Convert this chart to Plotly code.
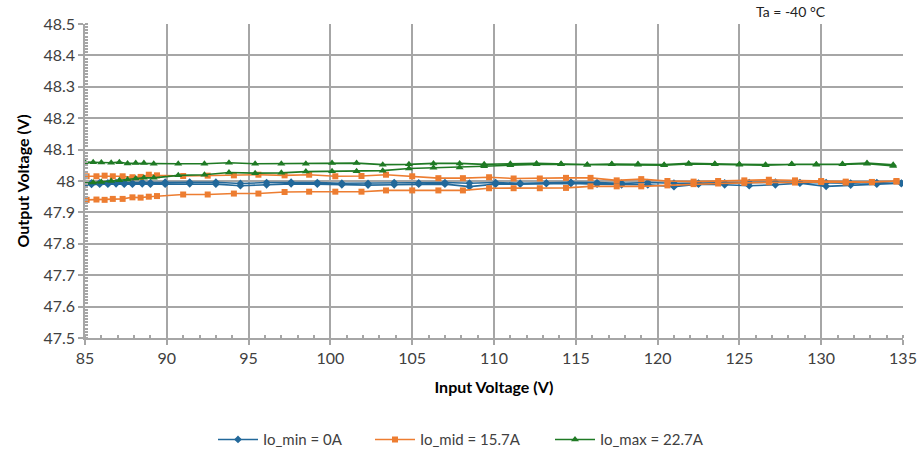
import plotly.graph_objects as go

# Input voltage sweep points (V) for each load condition
x_min = [85.0, 85.4, 85.9, 86.4, 86.9, 87.4, 87.9, 88.5, 89.0,
         89.9, 91.4, 93.0, 94.5, 96.1, 97.6,
         99.2, 100.7, 102.3, 103.9, 105.4,
         107.0, 108.5, 110.1, 111.6, 113.2,
         114.7, 116.3, 117.8, 119.4, 121.0,
         122.5, 124.1, 125.6, 127.2, 128.7,
         130.3, 131.8, 133.4, 134.9]
x_mid = [85.1, 85.7, 86.2, 86.7, 87.3, 87.9, 88.4, 88.9, 89.4,
         91.0, 92.5, 94.1, 95.6, 97.2,
         98.7, 100.3, 101.9, 103.4, 105.0,
         106.6, 108.1, 109.7, 111.2, 112.8,
         114.4, 115.9, 117.5, 119.0, 120.6,
         122.2, 123.7, 125.3, 126.8, 128.4,
         130.0, 131.5, 133.1, 134.6]
x_max = [85.0, 85.5, 86.0, 86.6, 87.1, 87.6, 88.1, 88.6, 89.2,
         90.7, 92.3, 93.8, 95.4, 97.0,
         98.5, 100.1, 101.6, 103.2, 104.8,
         106.3, 107.9, 109.4, 111.0, 112.6,
         114.1, 115.7, 117.2, 118.8, 120.4,
         121.9, 123.5, 125.0, 126.6, 128.2,
         129.7, 131.3, 132.8, 134.4]

# Output voltage (V), rising sweep and falling sweep
vout_min_up = [47.988, 47.989, 47.990, 47.990, 47.991, 47.990, 47.990, 47.991, 47.990,
               47.990, 47.991, 47.990, 47.985, 47.988, 47.991,
               47.990, 47.988, 47.987, 47.988, 47.990,
               47.990, 47.982, 47.990, 47.990, 47.992,
               47.992, 47.990, 47.988, 47.988, 47.982,
               47.990, 47.988, 47.985, 47.988, 47.993,
               47.983, 47.987, 47.990, 47.993]
vout_min_down = [47.993, 47.994, 47.995, 47.994, 47.995, 47.995, 47.994, 47.996, 47.995,
                 47.996, 47.996, 47.996, 47.992, 47.995, 47.996,
                 47.995, 47.993, 47.992, 47.995, 47.994,
                 47.995, 47.993, 47.995, 47.993, 47.994,
                 47.996, 47.995, 47.993, 47.995, 47.993,
                 47.993, 47.994, 47.995, 47.996, 47.995,
                 47.995, 47.993, 47.995, 47.992]

vout_mid_up = [47.940, 47.941, 47.940, 47.943, 47.943, 47.948, 47.947, 47.950, 47.952,
               47.957, 47.957, 47.960, 47.960, 47.965,
               47.966, 47.966, 47.966, 47.970, 47.970,
               47.970, 47.970, 47.977, 47.977, 47.977,
               47.978, 47.983, 47.983, 47.983, 47.986,
               47.990, 47.992, 47.994, 47.996, 47.995,
               47.997, 47.995, 47.997, 47.998]
vout_mid_down = [48.015, 48.015, 48.017, 48.015, 48.015, 48.012, 48.013, 48.020, 48.018,
                 48.016, 48.017, 48.018, 48.020, 48.018,
                 48.020, 48.015, 48.016, 48.020, 48.015,
                 48.009, 48.009, 48.012, 48.008, 48.008,
                 48.010, 48.010, 48.002, 48.006, 48.000,
                 47.998, 48.000, 48.002, 48.004, 48.002,
                 48.000, 47.998, 47.996, 48.000]

vout_max_up = [47.993, 47.995, 47.997, 48.000, 48.002, 48.005, 48.008, 48.010, 48.010,
               48.018, 48.020, 48.027, 48.025, 48.026,
               48.030, 48.031, 48.031, 48.033, 48.040,
               48.042, 48.043, 48.047, 48.050, 48.053,
               48.053, 48.052, 48.053, 48.052, 48.050,
               48.054, 48.053, 48.052, 48.050, 48.053,
               48.052, 48.053, 48.055, 48.048]
vout_max_down = [48.060, 48.060, 48.059, 48.058, 48.060, 48.056, 48.057, 48.057, 48.055,
                 48.055, 48.055, 48.058, 48.055, 48.055,
                 48.055, 48.057, 48.057, 48.052, 48.053,
                 48.056, 48.056, 48.053, 48.055, 48.056,
                 48.055, 48.052, 48.054, 48.054, 48.052,
                 48.056, 48.055, 48.053, 48.052, 48.054,
                 48.053, 48.054, 48.057, 48.052]

series_names = ["Io_min = 0A", "Io_mid = 15.7A", "Io_max = 22.7A"]
x_ticks = [85, 90, 95, 100, 105, 110, 115, 120, 125, 130, 135]
y_ticks = [47.5, 47.6, 47.7, 47.8, 47.9, 48.0, 48.1, 48.2, 48.3, 48.4, 48.5]
y_tick_text = ["47.5", "47.6", "47.7", "47.8", "47.9", "48", "48.1", "48.2", "48.3", "48.4", "48.5"]

FONT = "Lato"
GRID = "#A6A6A6"
TICK_COLOR = "#404040"

styles = [
    dict(color="#22689A", symbol="diamond", size=6),
    dict(color="#ED7D31", symbol="square", size=6),
    dict(color="#1F7A24", symbol="triangle-up", size=7),
]
sweeps = [
    (x_min, vout_min_up, vout_min_down),
    (x_mid, vout_mid_up, vout_mid_down),
    (x_max, vout_max_up, vout_max_down),
]
# each series gets its own legend box so the entries can be spaced freely
legend_ids = ["legend", "legend2", "legend3"]
legend_left = [213, 370, 550]

fig = go.Figure()
for name, st, (xs, up, down), lid in zip(series_names, styles, sweeps, legend_ids):
    # rising sweep followed by the falling sweep, drawn as one loop
    fig.add_trace(go.Scatter(
        x=list(xs) + list(xs)[::-1],
        y=list(up) + list(down)[::-1],
        mode="lines+markers",
        name=name,
        legend=lid,
        line=dict(color=st["color"], width=1.6),
        marker=dict(color=st["color"], symbol=st["symbol"], size=st["size"]),
    ))

fig.add_annotation(
    text="Ta = -40 °C", xref="paper", yref="paper",
    x=0.863, y=1.0, xanchor="center", yanchor="bottom", yshift=2,
    showarrow=False, font=dict(family=FONT, size=14, color="#222222"),
)

legend_style = dict(
    orientation="h", xref="container", yref="container",
    xanchor="left", y=0.04, yanchor="middle",
    font=dict(family=FONT, size=15, color=TICK_COLOR),
    itemwidth=40, bgcolor="rgba(0,0,0,0)",
)

fig.update_layout(
    width=919, height=458,
    margin=dict(l=85, r=16, t=24, b=120, autoexpand=False),
    paper_bgcolor="white", plot_bgcolor="white",
    font=dict(family=FONT, size=15, color=TICK_COLOR),
    showlegend=True,
    legend=dict(x=legend_left[0] / 919, **legend_style),
    legend2=dict(x=legend_left[1] / 919, **legend_style),
    legend3=dict(x=legend_left[2] / 919, **legend_style),
    xaxis=dict(
        range=[85, 135], tickvals=x_ticks,
        showgrid=True, gridcolor=GRID, gridwidth=1.5,
        showline=True, linecolor=GRID, linewidth=1.5,
        ticks="outside", ticklen=5, tickcolor=GRID, tickwidth=1.5,
        minor=dict(dtick=1, ticks="inside", ticklen=3, tickcolor=GRID, showgrid=False),
        zeroline=False,
        tickfont=dict(family=FONT, size=16, color=TICK_COLOR),
        title=dict(text="<b>Input Voltage (V)</b>", standoff=16,
                   font=dict(family=FONT, size=16, color="#000000")),
    ),
    yaxis=dict(
        range=[47.5, 48.5], tickvals=y_ticks, ticktext=y_tick_text,
        showgrid=True, gridcolor=GRID, gridwidth=1.5,
        showline=True, linecolor=GRID, linewidth=1.5,
        ticks="outside", ticklen=5, tickcolor=GRID, tickwidth=1.5,
        minor=dict(dtick=0.01, tick0=47.5, ticks="inside", ticklen=3, tickcolor=GRID, showgrid=False),
        zeroline=False,
        tickfont=dict(family=FONT, size=16, color=TICK_COLOR),
        title=dict(text="<b>Output Voltage (V)</b>", standoff=10,
                   font=dict(family=FONT, size=16, color="#000000")),
    ),
)

fig.write_html("out.html")
